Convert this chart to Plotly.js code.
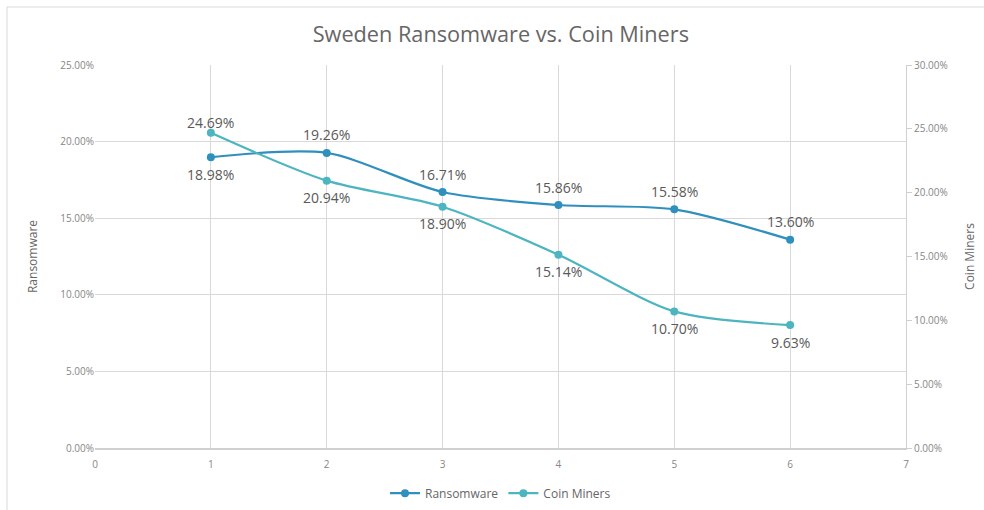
<!DOCTYPE html>
<html><head><meta charset="utf-8">
<script src="https://cdn.plot.ly/plotly-3.0.1.min.js"></script>
<style>body{margin:0;background:#fff}#c{width:984px;height:510px}</style>
</head><body><div id="c"></div>
<script>
const xs = [1, 2, 3, 4, 5, 6];
const ransomware = [0.1898, 0.1926, 0.1671, 0.1586, 0.1558, 0.1360];
const coinMiners = [0.2469, 0.2094, 0.1890, 0.1514, 0.1070, 0.0963];
const ransomLabels = ['18.98%', '19.26%', '16.71%', '15.86%', '15.58%', '13.60%'];
const coinLabels = ['24.69%', '20.94%', '18.90%', '15.14%', '10.70%', '9.63%'];
const ransomPos = ['below', 'above', 'above', 'above', 'above', 'above'];
const coinPos = ['above', 'below', 'below', 'below', 'below', 'below'];

const cR = '#2f8fbd', cC = '#4db5c0';
const font = 'Open Sans, Liberation Sans, sans-serif';
const traces = [
  {x: xs, y: ransomware, name: 'Ransomware', mode: 'lines+markers',
   line: {color: cR, width: 2.2, shape: 'spline', smoothing: 0.8}, marker: {size: 8, color: cR}, yaxis: 'y', cliponaxis: false},
  {x: xs, y: coinMiners, name: 'Coin Miners', mode: 'lines+markers',
   line: {color: cC, width: 2.2, shape: 'spline', smoothing: 0.8}, marker: {size: 8, color: cC}, yaxis: 'y2', cliponaxis: false}
];
function labels(vals, texts, pos, yref) {
  return vals.map((v, i) => ({
    x: xs[i], y: v, xref: 'x', yref: yref, text: texts[i], showarrow: false,
    yshift: pos[i] === 'above' ? ((yref === 'y2' && i === 0) ? 10 : 18) : -17,
    font: {size: 14, color: '#595959', family: font}
  }));
}
const layout = {
  width: 984, height: 510,
  margin: {l: 95, r: 78, t: 65, b: 62, autoexpand: false},
  paper_bgcolor: '#fff', plot_bgcolor: '#fff',
  font: {family: font, color: '#868686', size: 10},
  title: {text: 'Sweden Ransomware vs. Coin Miners', font: {size: 21.7, color: '#666666', family: font}, x: 0.509, xanchor: 'center', y: 0.932, yanchor: 'middle'},
  xaxis: {range: [0, 7], dtick: 1, tick0: 0, showgrid: true, gridcolor: '#d9d9d9', zeroline: false,
          showline: true, linecolor: '#d0d0d0', linewidth: 1.5, ticks: '', ticklabelstandoff: 6, tickfont: {size: 10, color: '#868686'}},
  yaxis: {range: [0, 0.25], dtick: 0.05, tickformat: '.2%', showgrid: true, gridcolor: '#d9d9d9', zeroline: false,
          showline: false, ticks: '', tickfont: {size: 10, color: '#868686'}, automargin: false,
          title: {text: 'Ransomware', font: {size: 12, color: '#666666'}, standoff: 20}},
  yaxis2: {range: [0, 0.30], dtick: 0.05, tickformat: '.2%', overlaying: 'y', side: 'right', showgrid: false, zeroline: false,
           showline: true, linecolor: '#d0d0d0', linewidth: 1, ticks: 'outside', ticklen: 5, tickcolor: '#d0d0d0',
           tickfont: {size: 10, color: '#868686'}, automargin: false,
           title: {text: 'Coin Miners', font: {size: 12, color: '#666666'}, standoff: 18}},
  legend: {orientation: 'h', x: 0.5, xanchor: 'center', xref: 'paper', yref: 'container', y: 0.033, yanchor: 'middle', font: {size: 12, color: '#666666'}},
  showlegend: true,
  annotations: labels(ransomware, ransomLabels, ransomPos, 'y').concat(labels(coinMiners, coinLabels, coinPos, 'y2')),
  shapes: [{type: 'rect', xref: 'paper', yref: 'paper', x0: -0.1085, x1: 1.115, y0: -0.3, y1: 1.1514,
            line: {color: '#d9d9d9', width: 1}, fillcolor: 'rgba(0,0,0,0)', layer: 'below'}]
};
Plotly.newPlot('c', traces, layout, {displayModeBar: false, staticPlot: true});
</script></body></html>
